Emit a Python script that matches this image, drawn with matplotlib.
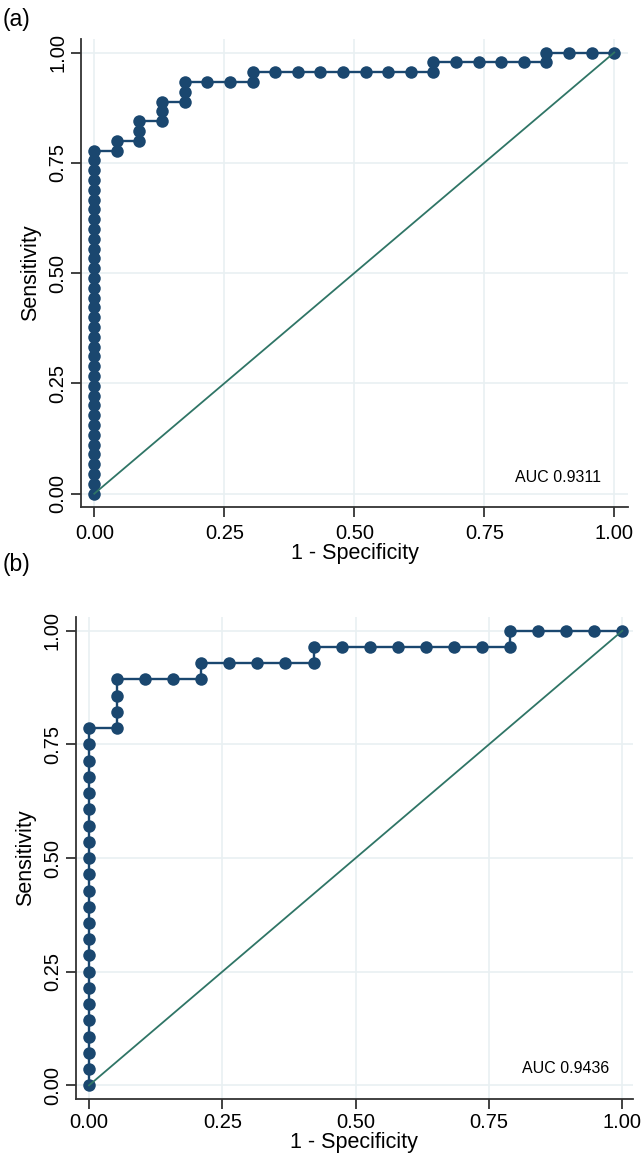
import matplotlib
matplotlib.use("Agg")
import matplotlib.pyplot as plt

plt.rcParams["font.family"] = ["Liberation Sans", "DejaVu Sans"]

# ---- panel (a): 23 negatives, 45 positives (counts)
a_n_neg = 23
a_n_pos = 45
a_fp = [0] * 36 + [1, 1, 2, 2, 2, 3, 3, 3, 4, 4, 4, 5, 6, 7, 7,
                   8, 9, 10, 11, 12, 13, 14, 15, 15, 16, 17, 18, 19, 20, 20,
                   21, 22, 23]
a_tp = [0, 1, 2, 3, 4, 5, 6, 7, 8, 9, 10, 11, 12, 13, 14, 15, 16, 17, 18,
        19, 20, 21, 22, 23, 24, 25, 26, 27, 28, 29, 30, 31, 32, 33, 34, 35,
        35, 36, 36, 37, 38, 38, 39, 40, 40, 41, 42, 42, 42, 42, 43,
        43, 43, 43, 43, 43, 43, 43, 43, 44, 44, 44, 44, 44, 44, 45,
        45, 45, 45]
a_auc = "AUC 0.9311"

# ---- panel (b): 19 negatives, 28 positives
b_n_neg = 19
b_n_pos = 28
b_fp = [0] * 23 + [1, 1, 1, 1, 2, 3, 4, 4, 5, 6, 7, 8, 8,
                   9, 10, 11, 12, 13, 14, 15, 15, 16, 17, 18, 19]
b_tp = [0, 1, 2, 3, 4, 5, 6, 7, 8, 9, 10, 11, 12, 13, 14, 15, 16, 17,
        18, 19, 20, 21, 22,
        22, 23, 24, 25, 25, 25, 25, 26, 26, 26, 26, 26, 27,
        27, 27, 27, 27, 27, 27, 27, 28, 28, 28, 28, 28]
b_auc = "AUC 0.9436"

ticks = [0.0, 0.25, 0.5, 0.75, 1.0]
tick_labels = ["0.00", "0.25", "0.50", "0.75", "1.00"]

NAVY = "#1a476f"
REF = "#2f7566"
GRID = "#e9f0f2"


def draw_roc(ax, fp, tp, n_neg, n_pos, auc_text, xmax, xpad, xlabelpad):
    x = [v / n_neg for v in fp]
    y = [v / n_pos for v in tp]
    ax.plot(x, y, color=NAVY, lw=1.7, marker="o", ms=9,
            markeredgewidth=0, zorder=3, clip_on=False)
    ax.plot([0, 1], [0, 1], color=REF, lw=1.3, zorder=4, clip_on=False)

    ax.set_xlim(-0.025, xmax)
    ax.set_ylim(-0.03, 1.03)
    ax.set_xticks(ticks)
    ax.set_yticks(ticks)
    ax.set_xticklabels(tick_labels, fontsize=14.5)
    ax.set_yticklabels(tick_labels, fontsize=14.5, rotation=90, va="center")
    ax.grid(True, color=GRID, lw=1.2, zorder=0)
    ax.set_axisbelow(True)
    for side in ("top", "right"):
        ax.spines[side].set_visible(False)
    for side in ("left", "bottom"):
        ax.spines[side].set_linewidth(1.3)
        ax.spines[side].set_color("#333333")
    ax.tick_params(length=7, width=1.3, color="#333333")
    ax.tick_params(axis="x", pad=xpad)
    ax.tick_params(axis="y", pad=3)
    ax.set_xlabel("1 - Specificity", fontsize=15.5, labelpad=xlabelpad)
    ax.set_ylabel("Sensitivity", fontsize=15.5, labelpad=5)
    ax.text(0.975, 0.02, auc_text, ha="right", va="bottom", fontsize=11.5)


fig = plt.figure(figsize=(6.44, 11.55), dpi=100)

ax_a = fig.add_axes([0.1262, 0.5611, 0.8494, 0.4049])
draw_roc(ax_a, a_fp, a_tp, a_n_neg, a_n_pos, a_auc, 1.027, 5, 0)
fig.text(0.004, 0.983, "(a)", fontsize=16.5, va="center", ha="left")

ax_b = fig.add_axes([0.1175, 0.0485, 0.8654, 0.4172])
draw_roc(ax_b, b_fp, b_tp, b_n_neg, b_n_pos, b_auc, 1.02, 3, 0)
fig.text(0.004, 0.511, "(b)", fontsize=16.5, va="center", ha="left")

fig.savefig("out.png", dpi=100)
